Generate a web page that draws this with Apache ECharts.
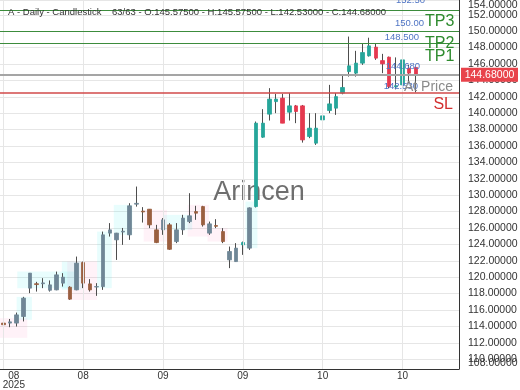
<!DOCTYPE html>
<html><head><meta charset="utf-8">
<script src="https://cdn.jsdelivr.net/npm/echarts@6/dist/echarts.min.js"></script>
<style>html,body{margin:0;padding:0;background:#fff}#c{width:520px;height:390px}</style>
</head><body><div id="c"></div>
<script>
// ---- data ----
const dates = ['2025-08-01','2025-08-04','2025-08-05','2025-08-06','2025-08-07','2025-08-08','2025-08-11','2025-08-12','2025-08-13','2025-08-14','2025-08-15','2025-08-18','2025-08-19','2025-08-20','2025-08-21','2025-08-22','2025-08-25','2025-08-26','2025-08-27','2025-08-28','2025-08-29',
'2025-09-01','2025-09-02','2025-09-03','2025-09-04','2025-09-05','2025-09-08','2025-09-09','2025-09-10','2025-09-11','2025-09-12','2025-09-15','2025-09-16','2025-09-17','2025-09-18','2025-09-19','2025-09-22','2025-09-23','2025-09-24','2025-09-25','2025-09-26','2025-09-29','2025-09-30',
'2025-10-01','2025-10-02','2025-10-03','2025-10-06','2025-10-07','2025-10-08','2025-10-09','2025-10-10','2025-10-13','2025-10-14','2025-10-15','2025-10-16','2025-10-17','2025-10-20','2025-10-21','2025-10-22','2025-10-23','2025-10-24','2025-10-27','2025-10-28'];
const opens = [114.4,114.4,114.4,115.2,118.66,119.2,119.2,118.4,118.45,119.27,
118.78,118.45,121.78,119.18,118.8,118.85,125.37,124.55,125.5,125.16,
128.9,128.05,128.29,125.77,125.77,126.38,124.34,125.77,126.78,128.0,
128.61,125.37,126.3,125.56,122.11,121.9,123.94,123.54,128.61,137.07,
139.88,141.41,141.83,140.12,140.89,140.89,137.15,136.34,139.18,140.32,
140.61,142.44,145.07,144.88,146.1,146.99,148.05,146.41,146.83,143.2,
143.45,145.49,145.575];
const highs = [114.8,114.9,115.68,117.6,120.5,119.43,119.88,119.6,120.68,120.49,
118.9,122.51,121.9,119.76,119.27,125.56,126.59,125.4,126.0,129.02,
131.05,128.54,128.3,126.38,127.2,126.59,126.59,127.6,130.24,128.7,
128.7,126.78,127.07,125.98,123.73,124.15,124.34,128.5,138.98,140.49,
143.05,142.35,142.35,142.44,141.0,141.0,140.0,140.0,140.0,143.45,
142.44,144.67,149.34,147.6,148.54,149.2,148.54,147.23,146.9,146.8,
148.12,145.89,145.575];
const lows = [113.6,113.9,113.98,114.6,118.05,118.24,118.66,118.24,118.4,118.85,
117.23,118.4,118.66,118.24,117.72,118.45,124.95,122.1,123.94,124.55,
128.6,126.66,125.98,124.15,125.16,123.33,124.15,125.16,126.59,126.99,
126.17,125.16,125.98,124.15,121.1,121.9,122.72,123.33,128.5,137.0,
139.1,140.0,138.78,139.1,138.78,136.41,136.95,136.13,137.35,140.0,
139.79,142.3,144.46,144.46,145.89,146.9,146.5,144.88,143.05,142.9,
143.05,143.66,142.53];
const closes = [114.2,114.55,115.4,117.44,120.49,119.1,119.3,119.06,120.28,120.0,
117.32,121.71,119.27,118.45,118.85,125.16,125.77,125.37,125.6,128.7,
129.0,127.95,126.38,124.22,126.99,123.4,125.77,127.2,127.48,127.8,
126.38,126.5,126.2,124.34,123.13,123.54,124.22,128.45,138.78,138.78,
141.71,141.71,138.78,140.89,140.2,136.74,138.17,138.17,139.67,141.13,
142.02,143.13,145.77,146.1,147.39,148.21,146.71,146.01,143.24,143.35,
146.5,144.88,144.68];
const yMin = 108.8, yMax = 153.8;
const tpLevels = [152.5, 150.0, 148.5];
const tpLevelTexts = ['152.50', '150.00', '148.500'];
const priceLevel = 144.68;
const slLevel = 142.43;
const lowLabel = 142.53;
const monthTickEvery = 12;
const emptySlots = 6;
// zones: [kind, fromIndex, toIndex, low, high]
const zones = [
 ['p', -0.5, 3.6, 112.6, 115.0],
 ['c', 2.0, 4.3, 114.8, 117.6],
 ['c', 2.1, 11.1, 118.66, 120.69],
 ['c', 8.8, 11.8, 118.45, 121.9],
 ['p', 9.6, 14.1, 117.2, 121.9],
 ['c', 14.1, 16.3, 118.66, 125.56],
 ['c', 16.6, 19.4, 125.16, 128.82],
 ['p', 21.1, 24.6, 124.34, 128.2],
 ['c', 24.1, 28.4, 125.77, 127.6],
 ['p', 27.7, 30.9, 124.95, 128.82],
 ['p', 30.7, 33.7, 124.34, 125.98],
 ['c', 36.4, 38.2, 123.54, 129.22]
];

// ---- styles ----
const FONT = '"Liberation Sans", Arial, sans-serif';
const UP = '#26a69a', DOWN = '#e5394f';
const UP_M = '#6f8696', DOWN_M = '#9a5f40';
const WICK = '#4d4d4d';
const isMuted = i => i < 36 || i === 37;

const n = dates.length;
const cats = dates.concat(Array.from({length: emptySlots}, (_, k) => 'pad' + k));
const wickData = dates.map((d, i) => [opens[i], closes[i], lows[i], highs[i]]);
const bodyData = dates.map((d, i) => {
  const o = opens[i], c = closes[i];
  const up = c >= o;
  const col = isMuted(i) ? (up ? UP_M : DOWN_M) : (up ? UP : DOWN);
  return {value: [o, c, Math.min(o, c), Math.max(o, c)],
    itemStyle: {color: col, color0: col, borderColor: col, borderColor0: col}};
});

const chart = echarts.init(document.getElementById('c'), null, {renderer: 'canvas'});
const vLines = [];
for (let i = 0; i < n; i += monthTickEvery) vLines.push({xAxis: i});

const isEnd = v => Math.abs(v - yMin) < 1e-6 || Math.abs(v - yMax) < 1e-6;
const yLabelFmt = (v) => {
  let x = v;
  if (Math.abs(v - yMin) < 1e-6) x = Math.floor(v);
  else if (Math.abs(v - yMax) < 1e-6) x = Math.ceil(v);
  return x.toFixed(5);
};
const yAxisBase = {
  type: 'value', position: 'right', min: yMin, max: yMax,
  minInterval: 2, maxInterval: 2, splitNumber: 22, scale: true,
  axisTick: {show: false}
};
const yLabelStyle = {margin: 9, fontSize: 10.5, color: '#333', fontFamily: FONT, hideOverlap: false};

chart.setOption({
  animation: false,
  backgroundColor: '#fff',
  grid: {left: 0, right: 61, top: 0, bottom: 21, containLabel: false, outerBoundsMode: 'none'},
  xAxis: {
    type: 'category', data: cats, boundaryGap: true,
    axisLine: {show: true, lineStyle: {color: '#333', width: 1}},
    axisTick: {show: false},
    splitLine: {show: false},
    axisLabel: {
      interval: (idx) => idx % monthTickEvery === 0 && idx < n,
      formatter: (val, idx) => {
        const m = String(val).slice(5, 7), y = String(val).slice(0, 4);
        return idx === 0 ? '{c|' + m + '}\n{c|' + y + '}' : m;
      },
      rich: {c: {width: 21, align: 'center', fontSize: 10, lineHeight: 9.5, color: '#333', fontFamily: FONT}},
      alignMinLabel: 'left',
      margin: 2, fontSize: 10, lineHeight: 9.5, color: '#333', fontFamily: FONT
    }
  },
  yAxis: [
    Object.assign({}, yAxisBase, {
      axisLine: {show: true, lineStyle: {color: '#333', width: 1}},
      splitLine: {show: true, lineStyle: {color: '#e6e6e6', width: 1}},
      axisLabel: Object.assign({showMinLabel: false, showMaxLabel: false,
        formatter: v => isEnd(v) ? '' : yLabelFmt(v)}, yLabelStyle)
    }),
    Object.assign({}, yAxisBase, {
      axisLine: {show: false},
      splitLine: {show: false},
      axisLabel: Object.assign({showMinLabel: true, showMaxLabel: true,
        verticalAlignMinLabel: 'bottom', verticalAlignMaxLabel: 'top',
        formatter: v => isEnd(v) ? yLabelFmt(v) : ''}, yLabelStyle)
    })
  ],
  series: [
    {
      type: 'custom', name: 'zones', z: 1, silent: true,
      data: zones.map(z => [0, z[3]]),
      renderItem: (params, api) => {
        const zn = zones[params.dataIndex];
        const band = api.size([1, 0])[0];
        const base = api.coord([0, zn[3]]);
        const top = api.coord([0, zn[4]]);
        const x0 = base[0] + zn[1] * band, x1 = base[0] + zn[2] * band;
        return {type: 'rect', shape: {x: x0, y: top[1], width: x1 - x0, height: base[1] - top[1]},
          style: {fill: zn[0] === 'c' ? 'rgba(0,230,230,0.09)' : 'rgba(255,60,150,0.065)'}};
      },
      markLine: {
        silent: true, symbol: ['none', 'none'], label: {show: false},
        data: vLines.map(v => Object.assign({lineStyle: {color: '#e6e6e6', width: 1, type: 'solid'}}, v)).concat([
          {yAxis: tpLevels[0], lineStyle: {color: '#3c8c3c', width: 1.2, type: 'solid'}},
          {yAxis: tpLevels[1], lineStyle: {color: '#3c8c3c', width: 1.2, type: 'solid'}},
          {yAxis: tpLevels[2], lineStyle: {color: '#3c8c3c', width: 1.2, type: 'solid'}},
          {yAxis: priceLevel, lineStyle: {color: '#a5a5a5', width: 2, type: 'solid'}},
          {yAxis: slLevel, lineStyle: {color: '#d24a4a', width: 1.5, type: 'solid'}}
        ])
      }
    },
    {
      type: 'candlestick', name: 'wick', z: 3, silent: true,
      data: wickData, barWidth: 1,
      itemStyle: {color: WICK, color0: WICK, borderColor: WICK, borderColor0: WICK, borderWidth: 1}
    },
    {
      type: 'candlestick', name: 'body', z: 4, silent: true,
      data: bodyData, barWidth: 4,
      itemStyle: {borderWidth: 0.8}
    }
  ]
});

// ---- annotation texts placed through the axis scale ----
const py = v => chart.convertToPixel({yAxisIndex: 0}, v);
const BLUE = '#4f74c4', GREEN = '#2e8b2e', RED = '#d32f2f';
const txt = (text, x, y, size, color, align, extra) => Object.assign({
  type: 'text', z: 100, silent: true, x: x, y: y,
  style: {text: text, fill: color, font: size + 'px ' + FONT, align: align || 'left', verticalAlign: 'middle'}
}, extra || {});
const last = n - 1;
const hdr2 = n + '/' + n + ' - O:' + opens[last].toFixed(5) + ' - H:' + highs[last].toFixed(5) +
  ' - L:' + lows[last].toFixed(5) + ' - C:' + closes[last].toFixed(5);
const yp = py(priceLevel);
chart.setOption({
  graphic: [
    txt('Arincen', 259, 193, 27, '#555', 'center', {z: 1, style: {text: 'Arincen', fill: '#555', opacity: 0.85, font: '27px ' + FONT, align: 'center', verticalAlign: 'middle'}}),
    txt('A - Daily - Candlestick', 8, 12, 9.5, '#333'),
    txt(hdr2, 112, 12, 9.5, '#333'),
    txt(tpLevelTexts[0], 425, py(tpLevels[0]) - 10, 9.5, BLUE, 'right'),
    txt(tpLevelTexts[1], 424, py(tpLevels[1]) - 7.5, 9.5, BLUE, 'right'),
    txt('TP3', 425, py(tpLevels[1]) - 9.5, 16, GREEN),
    txt(tpLevelTexts[2], 419, py(tpLevels[2]) - 6.5, 9.5, BLUE, 'right'),
    txt('TP2', 425, py(tpLevels[2]), 16, GREEN),
    txt('TP1', 425, py(tpLevels[2]) + 13, 16, GREEN),
    txt(priceLevel.toFixed(3), 420, yp - 8, 9.5, BLUE, 'right'),
    txt(lowLabel.toFixed(3), 418, py(lowLabel) - 6, 9.5, BLUE, 'right'),
    txt('At Price', 453, py(slLevel) - 6, 14, '#8a8a8a', 'right'),
    txt('SL', 453, py(slLevel) + 11, 16, RED, 'right'),
    {type: 'rect', z: 100, silent: true, shape: {x: 461, y: yp - 7, width: 57, height: 14}, style: {fill: '#e8434b'}},
    txt(priceLevel.toFixed(5), 489.5, yp, 10.5, '#fff', 'center')
  ]
});
</script></body></html>
